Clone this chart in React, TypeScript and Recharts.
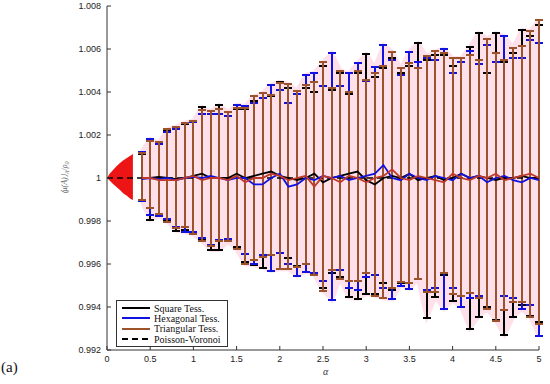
import React from 'react';
import { ComposedChart, Line, Area, XAxis, YAxis, ErrorBar, Legend } from 'recharts';

// alpha positions of the error bars
const ALPHA = [0.4, 0.5, 0.6, 0.7, 0.8, 0.9, 1.0, 1.1, 1.2, 1.3, 1.4, 1.5, 1.6, 1.7, 1.8, 1.9, 2.0, 2.1, 2.2, 2.3, 2.4, 2.5, 2.6, 2.7, 2.8, 2.9, 3.0, 3.1, 3.2, 3.3, 3.4, 3.5, 3.6, 3.7, 3.8, 3.9, 4.0, 4.1, 4.2, 4.3, 4.4, 4.5, 4.6, 4.7, 4.8, 4.9, 5.0];

// Square Tess.
const SQ_MEAN = [1.0, 1.0, 1.00005, 1.0, 0.99995, 1.0, 1.0001, 1.0002, 1.0, 1.0, 1.0, 1.0002, 1.0, 1.0001, 1.0002, 1.0003, 1.0001, 1.0, 0.9999, 1.0, 1.0002, 0.9998, 1.0, 1.0001, 1.0002, 1.0003, 0.9999, 0.9997, 1.0, 1.0001, 1.0, 1.0002, 0.9999, 1.0, 1.0001, 0.9999, 1.0, 1.0002, 1.0, 1.0001, 1.0, 0.9999, 1.0, 1.0, 1.0001, 1.0, 1.0];
const SQ_HI = [1.0011, 1.0017, 1.0016, 1.0022, 1.0023, 1.0025, 1.0026, 1.00329, 1.003, 1.0034, 1.0029, 1.0032, 1.0032, 1.0036, 1.0037, 1.0038, 1.00448, 1.0042, 1.0039, 1.0042, 1.004, 1.0052, 1.0041, 1.0049, 1.0039, 1.0049, 1.00577, 1.0047, 1.0051, 1.0056, 1.0049, 1.0052, 1.00626, 1.0055, 1.0057, 1.0057, 1.0052, 1.0054, 1.0061, 1.00673, 1.0049, 1.00673, 1.0054, 1.0058, 1.00688, 1.0066, 1.0071];
const SQ_LO = [0.999, 0.99805, 0.9983, 0.998, 0.99755, 0.9976, 0.9974, 0.9971, 0.99665, 0.99665, 0.9971, 0.9968, 0.9961, 0.99595, 0.99583, 0.9964, 0.99575, 0.9963, 0.9959, 0.996, 0.9956, 0.9949, 0.9956, 0.9954, 0.99445, 0.99437, 0.9946, 0.9946, 0.9951, 0.9948, 0.9951, 0.9951, 0.9953, 0.9935, 0.99445, 0.9955, 0.9943, 0.9945, 0.993, 0.99355, 0.994, 0.9934, 0.9927, 0.99352, 0.9941, 0.9936, 0.9933];

// Hexagonal Tess.
const HEX_MEAN = [0.99995, 1.0, 0.99995, 1.0, 0.9999, 1.0, 1.00005, 1.0, 1.0001, 1.0, 0.9999, 1.0, 1.0, 0.9997, 0.9997, 1.0, 1.0002, 0.9996, 0.9997, 1.0, 0.9999, 1.0001, 1.0, 1.0001, 0.9999, 1.0, 1.0001, 1.0002, 1.0006, 1.0, 0.9999, 1.0002, 1.0, 0.9999, 1.0001, 1.0, 0.9999, 1.0002, 1.0, 1.0001, 0.9998, 1.0, 1.0001, 0.9999, 0.9998, 1.0, 0.9999];
const HEX_HI = [1.00122, 1.00181, 1.0016, 1.00215, 1.00226, 1.00257, 1.0026, 1.003, 1.003, 1.003, 1.0029, 1.0034, 1.00335, 1.0035, 1.0037, 1.00433, 1.0041, 1.0035, 1.0039, 1.00479, 1.0049, 1.0043, 1.0058, 1.0043, 1.00487, 1.00533, 1.0045, 1.00515, 1.00619, 1.0055, 1.0048, 1.00588, 1.0054, 1.0056, 1.0055, 1.006, 1.0049, 1.0054, 1.0059, 1.0053, 1.0062, 1.0054, 1.0066, 1.0056, 1.0056, 1.0064, 1.0063];
const HEX_LO = [0.99894, 0.9983, 0.99822, 0.9981, 0.9977, 0.9975, 0.9975, 0.9972, 0.9969, 0.9971, 0.99715, 0.99668, 0.99645, 0.99598, 0.9964, 0.99568, 0.9965, 0.996, 0.99544, 0.99564, 0.9956, 0.9952, 0.99433, 0.9957, 0.9949, 0.9948, 0.9954, 0.9955, 0.9949, 0.99436, 0.995, 0.99484, 0.9953, 0.9948, 0.9949, 0.99391, 0.9949, 0.994, 0.9944, 0.9945, 0.9939, 0.99336, 0.9945, 0.9944, 0.9939, 0.9941, 0.99265];

// Triangular Tess.
const TRI_MEAN = [1.0, 1.0, 0.9999, 0.9999, 0.9999, 1.0, 1.0001, 0.9999, 1.0, 1.0, 0.9999, 1.0001, 0.9998, 1.0, 1.0, 1.0002, 1.0001, 0.9999, 1.0, 1.0001, 0.9996, 1.0001, 1.0, 0.9998, 1.0001, 1.0, 0.9998, 1.0, 1.0001, 1.0004, 1.0, 0.9999, 1.0001, 1.0, 0.9999, 0.9998, 1.0002, 1.0, 0.9999, 1.0001, 1.0, 1.0002, 0.9999, 1.0, 1.0001, 1.0002, 1.0];
const TRI_HI = [1.00118, 1.00174, 1.00166, 1.00226, 1.00239, 1.00257, 1.00267, 1.00316, 1.0031, 1.0032, 1.00307, 1.00326, 1.00326, 1.0038, 1.00394, 1.00386, 1.00443, 1.00437, 1.00406, 1.00433, 1.00447, 1.00538, 1.00418, 1.005, 1.00398, 1.005, 1.00456, 1.0049, 1.00523, 1.00588, 1.0051, 1.00536, 1.00513, 1.00567, 1.0059, 1.0058, 1.00557, 1.00557, 1.0057, 1.0055, 1.00648, 1.0058, 1.0055, 1.00606, 1.00614, 1.00685, 1.00735];
const TRI_LO = [0.99898, 0.99859, 0.99833, 0.99797, 0.99766, 0.99773, 0.99738, 0.99708, 0.99684, 0.99705, 0.99705, 0.99672, 0.99598, 0.99619, 0.99631, 0.99642, 0.99577, 0.99577, 0.99588, 0.99598, 0.99549, 0.99476, 0.99572, 0.9953, 0.9952, 0.9952, 0.99557, 0.99453, 0.9944, 0.99487, 0.99518, 0.9951, 0.9953, 0.9947, 0.99471, 0.9956, 0.9946, 0.9945, 0.99464, 0.99442, 0.9939, 0.99336, 0.99386, 0.99425, 0.99425, 0.99355, 0.9932];

// dense red bars at small alpha
const FAN_ALPHA = [0, 0.03, 0.07, 0.11, 0.15, 0.19, 0.23, 0.27, 0.3];
const FAN_HI = [1.0, 1.0002, 1.00037, 1.00055, 1.0007, 1.00082, 1.00093, 1.00104, 1.00112];
const FAN_LO = [1.0, 0.99988, 0.99972, 0.99958, 0.99944, 0.99928, 0.99918, 0.99904, 0.99898];

const PV_ALPHA = [0, 5];
const PV_VALUE = [1, 1];

const X_TICKS = [0, 0.5, 1, 1.5, 2, 2.5, 3, 3.5, 4, 4.5, 5];
const Y_TICKS = [0.992, 0.994, 0.996, 0.998, 1, 1.002, 1.004, 1.006, 1.008];

const BLACK = '#000000';
const BLUE = '#1212e0';
const BROWN = '#9c522b';

const rows = ALPHA.map((a, i) => ({
  alpha: a,
  sq: SQ_MEAN[i],
  sqErr: [SQ_MEAN[i] - SQ_LO[i], SQ_HI[i] - SQ_MEAN[i]],
  hex: HEX_MEAN[i],
  hexErr: [HEX_MEAN[i] - HEX_LO[i], HEX_HI[i] - HEX_MEAN[i]],
  tri: TRI_MEAN[i],
  triErr: [TRI_MEAN[i] - TRI_LO[i], TRI_HI[i] - TRI_MEAN[i]],
  band: [Math.min(TRI_LO[i], SQ_LO[i], HEX_LO[i]), Math.max(TRI_HI[i], SQ_HI[i], HEX_HI[i])],
}));
const fanRows = FAN_ALPHA.map((a, i) => ({ alpha: a, fan: [FAN_LO[i], FAN_HI[i]] }));
const pvRows = PV_ALPHA.map((a, i) => ({ alpha: a, pv: PV_VALUE[i] }));

const fmtY = (v: number) => String(parseFloat(v.toFixed(3)));

const LEGEND = [
  { name: 'Square Tess.', color: BLACK, dash: '' },
  { name: 'Hexagonal Tess.', color: BLUE, dash: '' },
  { name: 'Triangular Tess.', color: BROWN, dash: '' },
  { name: 'Poisson-Voronoi', color: BLACK, dash: '6 4' },
];

const renderLegend = () => (
  <div
    style={{
      border: '1px solid #333',
      background: '#fff',
      width: 106,
      padding: '2px 0 2px 4px',
      fontFamily: '"Liberation Serif", "Times New Roman", serif',
      fontSize: 10,
      color: '#111',
    }}
  >
    {LEGEND.map((l) => (
      <div key={l.name} style={{ display: 'flex', alignItems: 'center', height: 10.3 }}>
        <svg width={30} height={6} style={{ marginRight: 3 }}>
          <line x1={1} y1={3} x2={29} y2={3} stroke={l.color} strokeWidth={2} strokeDasharray={l.dash} />
        </svg>
        <span>{l.name}</span>
      </div>
    ))}
  </div>
);

const tickStyle = { fontSize: 9, fill: '#222', fontFamily: '"Liberation Sans", Arial, sans-serif' };

export default function App() {
  return (
    <div style={{ position: 'absolute', left: 0, top: 0, width: 550, height: 384, background: '#fff' }}>
      <ComposedChart width={550} height={384} margin={{ top: 6, right: 11, bottom: 4, left: 7 }}>
        <XAxis
          dataKey="alpha"
          type="number"
          domain={[0, 5]}
          ticks={X_TICKS}
          allowDataOverflow
          height={30}
          tickSize={-4}
          tickMargin={10}
          stroke="#333"
          tick={tickStyle}
          label={{
            content: () => (
              <text x={323} y={375} fontSize={10} fontStyle="italic" fontFamily='"Liberation Serif", serif' fill="#333">
                α
              </text>
            ),
          }}
        />
        <XAxis
          xAxisId="top"
          orientation="top"
          dataKey="alpha"
          type="number"
          domain={[0, 5]}
          ticks={X_TICKS}
          allowDataOverflow
          height={0}
          tickSize={-4}
          tick={false}
          stroke="#333"
        />
        <YAxis
          type="number"
          domain={[0.992, 1.008]}
          ticks={Y_TICKS}
          allowDataOverflow
          width={100}
          tickSize={-4}
          tickMargin={10}
          tickFormatter={fmtY}
          stroke="#333"
          tick={tickStyle}
          label={{
            content: () => (
              <text
                transform="translate(67,178) rotate(-90)"
                textAnchor="middle"
                fontSize={8}
                fontStyle="italic"
                fontFamily='"Liberation Serif", serif'
                fill="#666"
              >
                ⟨μ(A)⟩<tspan fontSize={6} dy={2}>A</tspan>
                <tspan dy={-2}>/ρ</tspan>
                <tspan fontSize={6} dy={2}>0</tspan>
              </text>
            ),
          }}
        />
        <YAxis
          yAxisId="right"
          orientation="right"
          type="number"
          domain={[0.992, 1.008]}
          ticks={Y_TICKS}
          allowDataOverflow
          width={0}
          tickSize={-4}
          tick={false}
          stroke="#333"
        />

        <Area
          data={rows}
          dataKey="band"
          type="linear"
          fill="#fde0ea"
          fillOpacity={1}
          stroke="#fde0ea"
          strokeWidth={4}
          isAnimationActive={false}
          legendType="none"
        />
        <Area
          data={fanRows}
          dataKey="fan"
          type="linear"
          fill="#ec1414"
          fillOpacity={1}
          stroke="none"
          isAnimationActive={false}
          legendType="none"
        />

        <Line data={rows} dataKey="sq" stroke="none" dot={false} isAnimationActive={false} legendType="none">
          <ErrorBar dataKey="sqErr" direction="y" width={4} stroke={BLACK} strokeWidth={2} shapeRendering="crispEdges" />
        </Line>
        <Line data={rows} dataKey="hex" stroke="none" dot={false} isAnimationActive={false} legendType="none">
          <ErrorBar dataKey="hexErr" direction="y" width={4} stroke={BLUE} strokeWidth={2} shapeRendering="crispEdges" />
        </Line>
        <Line data={rows} dataKey="tri" stroke="none" dot={false} isAnimationActive={false} legendType="none">
          <ErrorBar dataKey="triErr" direction="y" width={4} stroke={BROWN} strokeWidth={2} shapeRendering="crispEdges" />
        </Line>

        <Line data={pvRows} dataKey="pv" stroke={BLACK} strokeWidth={1.5} strokeDasharray="6 4" dot={false} isAnimationActive={false} />
        <Line data={rows} dataKey="sq" stroke={BLACK} strokeWidth={1.8} dot={false} isAnimationActive={false} />
        <Line data={rows} dataKey="hex" stroke={BLUE} strokeWidth={1.8} dot={false} isAnimationActive={false} />
        <Line data={rows} dataKey="tri" stroke="#c0392b" strokeWidth={1.8} dot={false} isAnimationActive={false} />

        <Legend
          layout="horizontal"
          verticalAlign="middle"
          align="center"
          content={renderLegend}
          wrapperStyle={{ left: 116, top: 300, width: 112 }}
        />
      </ComposedChart>
      <div
        style={{
          position: 'absolute',
          left: 1,
          top: 359,
          fontSize: 15,
          lineHeight: '16px',
          fontFamily: '"Liberation Serif", serif',
          color: '#111',
        }}
      >
        (a)
      </div>
    </div>
  );
}
